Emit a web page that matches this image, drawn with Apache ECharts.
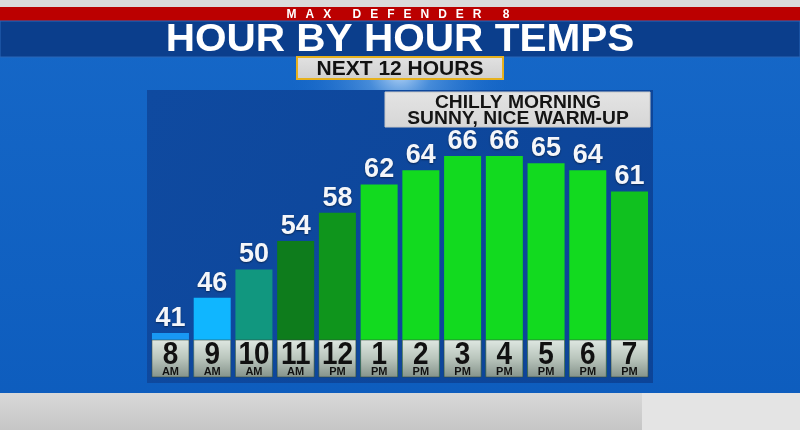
<!DOCTYPE html>
<html>
<head>
<meta charset="utf-8">
<script src="https://cdn.jsdelivr.net/npm/echarts@6/dist/echarts.min.js"></script>
<style>
html, body { margin: 0; padding: 0; background: #1262c2; }
#main { width: 800px; height: 430px; }
</style>
</head>
<body>
<div id="main"></div>
<script>
var hours = ["8", "9", "10", "11", "12", "1", "2", "3", "4", "5", "6", "7"];
var periods = ["AM", "AM", "AM", "AM", "PM", "PM", "PM", "PM", "PM", "PM", "PM", "PM"];
var temps = [41, 46, 50, 54, 58, 62, 64, 66, 66, 65, 64, 61];
var barColors = ["#1898f4", "#10b6ff", "#11977f", "#0e7c1c", "#0f951c", "#12da1f",
  "#12da1f", "#12da1f", "#12da1f", "#12da1f", "#12da1f", "#10c11f"];
var kicker = "MAX DEFENDER 8";
var title = "HOUR BY HOUR TEMPS";
var subtitle = "NEXT 12 HOURS";
var notes = ["CHILLY MORNING", "SUNNY, NICE WARM-UP"];

var yMin = 34.8;
var yMax = 70;
var FONT = "'Liberation Sans', Arial, sans-serif";

var myChart = echarts.init(document.getElementById("main"));

// letter-spaced text, one element per char
function spacedText(str, font, spacing, cx, cy) {
  var ctx = document.createElement("canvas").getContext("2d");
  ctx.font = font;
  var widths = str.split("").map(function (ch) { return ctx.measureText(ch).width; });
  var total = widths.reduce(function (a, b) { return a + b; }, 0) + spacing * (str.length - 1);
  var x = cx - total / 2;
  var out = [];
  for (var k = 0; k < str.length; k++) {
    out.push({
      type: "text", x: x, y: cy, z: 20,
      style: { text: str[k], font: font, fill: "#fff", align: "left", verticalAlign: "middle" }
    });
    x += widths[k] + spacing;
  }
  return out;
}

function renderHourBox(params, api) {
  var i = api.value(0);
  var p = api.coord([i, yMin]);
  var w = 37, h = 37;
  return {
    type: "group",
    children: [
      {
        type: "rect",
        shape: { x: p[0] - w / 2, y: p[1] - h, width: w, height: h },
        style: {
          fill: new echarts.graphic.LinearGradient(0, 0, 0, 1, [
            { offset: 0, color: "#dfe8e2" },
            { offset: 0.5, color: "#b9c5bc" },
            { offset: 1, color: "#84928a" }
          ]),
          stroke: "rgba(50,70,60,0.55)",
          lineWidth: 1
        }
      },
      {
        type: "text", x: p[0], y: p[1] - 22, scaleX: 0.9,
        style: { text: hours[i], font: "bold 31px " + FONT, fill: "#111", align: "center", verticalAlign: "middle" }
      },
      {
        type: "text", x: p[0], y: p[1] - 5.5,
        style: { text: periods[i], font: "bold 11px " + FONT, fill: "#111", align: "center", verticalAlign: "middle" }
      }
    ]
  };
}

var graphics = [
  // sky
  { type: "rect", z: -20, shape: { x: 0, y: 0, width: 800, height: 430 },
    style: { fill: new echarts.graphic.LinearGradient(0, 0, 0, 1, [
      { offset: 0, color: "#1668c8" }, { offset: 1, color: "#0d5cbd" }]) } },
  { type: "ellipse", z: -19, shape: { cx: 400, cy: 70, rx: 230, ry: 110 },
    style: { fill: new echarts.graphic.RadialGradient(0.5, 0.5, 0.5, [
      { offset: 0, color: "rgba(215,235,255,0.9)" },
      { offset: 0.3, color: "rgba(130,185,240,0.45)" },
      { offset: 1, color: "rgba(30,110,210,0)" }]) } },
  // bottom floor
  { type: "rect", z: -10, shape: { x: 0, y: 393, width: 800, height: 37 },
    style: { fill: new echarts.graphic.LinearGradient(0, 0, 0, 1, [
      { offset: 0, color: "#d8d8d8" }, { offset: 1, color: "#c6c6c6" }]) } },
  { type: "rect", z: -9, shape: { x: 642, y: 393, width: 158, height: 37 },
    style: { fill: "#e4e4e4" } },
  // header bands
  { type: "rect", z: 10, shape: { x: 0, y: 0, width: 800, height: 7 }, style: { fill: "#dadada" } },
  { type: "rect", z: 10, shape: { x: 0, y: 7, width: 800, height: 14 }, style: { fill: "#bb0000" } },
  { type: "rect", z: 10, shape: { x: 0, y: 21, width: 800, height: 36 },
    style: { fill: "#0b3e8c", stroke: "#2a66b8", lineWidth: 1 } },
  { type: "text", z: 20, x: 400, y: 40, scaleX: 1.04,
    style: { text: title, font: "bold 39px " + FONT, fill: "#fff", align: "center", verticalAlign: "middle",
      shadowBlur: 2, shadowColor: "rgba(0,0,0,0.5)" } },
  // subtitle box
  { type: "rect", z: 20, shape: { x: 297, y: 57, width: 206, height: 22 },
    style: { fill: new echarts.graphic.LinearGradient(0, 0, 0, 1, [
      { offset: 0, color: "#e2e2e2" }, { offset: 1, color: "#cfcfcf" }]), stroke: "#e6b11e", lineWidth: 2 } },
  { type: "text", z: 21, x: 400, y: 69,
    style: { text: subtitle, font: "bold 21px " + FONT, fill: "#111", align: "center", verticalAlign: "middle" } },
  // chart panel
  { type: "rect", z: -5, shape: { x: 147, y: 90, width: 506, height: 293 },
    style: { fill: new echarts.graphic.LinearGradient(0, 0, 1, 1, [
      { offset: 0, color: "#0f4aa0" }, { offset: 1, color: "#0c4498" }]) } },
  // notes box
  { type: "rect", z: 5, shape: { x: 385, y: 92, width: 265, height: 35 },
    style: { fill: new echarts.graphic.LinearGradient(0, 0, 0, 1, [
      { offset: 0, color: "#e4e4e4" }, { offset: 1, color: "#d6d6d6" }]), stroke: "#c8c8c8", lineWidth: 1 } },
  { type: "text", z: 6, x: 518, y: 103, scaleX: 1.07,
    style: { text: notes[0], font: "bold 18px " + FONT, fill: "#141414", align: "center", verticalAlign: "middle" } },
  { type: "text", z: 6, x: 518, y: 119, scaleX: 1.07,
    style: { text: notes[1], font: "bold 18px " + FONT, fill: "#141414", align: "center", verticalAlign: "middle" } }
].concat(spacedText(kicker, "bold 12px " + FONT, 9, 398, 15));

myChart.setOption({
  animation: false,
  graphic: { elements: graphics },
  grid: { left: 149.6, top: 127.8, width: 500.8, height: 249.2 },
  xAxis: {
    type: "category",
    data: hours,
    show: false
  },
  yAxis: {
    type: "value",
    min: yMin,
    max: yMax,
    show: false
  },
  series: [
    {
      type: "bar",
      barWidth: 37,
      z: 2,
      data: temps.map(function (t, i) {
        return { value: t, itemStyle: { color: barColors[i] } };
      }),
      label: {
        show: true,
        position: "top",
        distance: 1,
        color: "#f4f6fa",
        fontSize: 27,
        fontWeight: "bold",
        fontFamily: FONT,
        textShadowColor: "rgba(0,0,0,0.45)",
        textShadowBlur: 2,
        textShadowOffsetY: 1
      }
    },
    {
      type: "custom",
      z: 3,
      renderItem: renderHourBox,
      encode: { x: 0, y: 1 },
      data: temps.map(function (t, i) { return [i, t]; }),
      silent: true
    }
  ]
});
</script>
</body>
</html>
